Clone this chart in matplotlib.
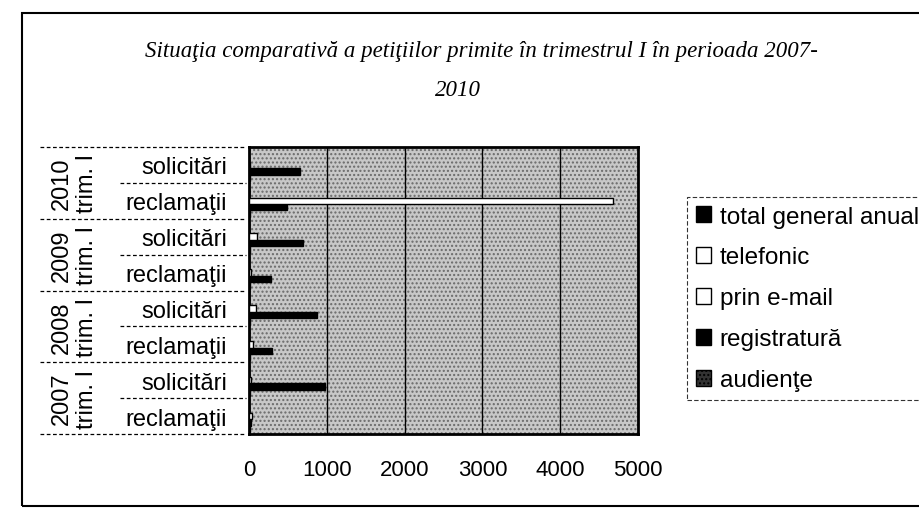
import matplotlib
matplotlib.use("Agg")
import matplotlib.pyplot as plt
import numpy as np
from matplotlib.patches import Rectangle, Patch
from matplotlib.transforms import blended_transform_factory

plt.rcParams['font.family'] = ['Liberation Sans', 'DejaVu Sans']

# ---- data (bottom -> top) ----
subcats = ["reclamaţii", "solicitări"] * 4
group_years = ["2007", "2008", "2009", "2010"]
group_sub = "trim. I"
series_names = ["audienţe", "registratură", "prin e-mail", "telefonic", "total general anual"]
audiente = [10, 15, 10, 15, 10, 15, 10, 15]
registratura = [30, 975, 295, 875, 285, 695, 490, 655]
email = [40, 20, 50, 90, 20, 100, 4680, 15]
telefonic = [0, 0, 0, 0, 0, 0, 0, 0]
total_anual = [0, 0, 0, 0, 0, 0, 0, 0]
xticks = [0, 1000, 2000, 3000, 4000, 5000]
title1 = "Situaţia comparativă a petiţiilor primite în trimestrul I în perioada 2007-"
title2 = "2010"

series_vals = [audiente, registratura, email, telefonic, total_anual]
series_style = [
    dict(facecolor="#333333", edgecolor="black", hatch="...."),
    dict(facecolor="black", edgecolor="black"),
    dict(facecolor="white", edgecolor="black"),
    dict(facecolor="white", edgecolor="black"),
    dict(facecolor="black", edgecolor="black"),
]

W, H = 919, 510
fig = plt.figure(figsize=(W / 100, H / 100), dpi=100)

L, R, T, B = 249, 638, 148, 435
ax = fig.add_axes([L / W, 1 - B / H, (R - L) / W, (B - T) / H])
ax.set_facecolor("#c8c8c8")
ax.add_patch(Rectangle((0, 0), 1, 1, transform=ax.transAxes, facecolor="none",
                       edgecolor="#6a6a6a", hatch="....", lw=0, zorder=0.5))

n = len(subcats)
y = np.arange(n)
w = 0.18
for k, (vals, st) in enumerate(zip(series_vals, series_style)):
    ax.barh(y + (k - 2) * w, vals, height=w, linewidth=1.0, zorder=3, **st)

ax.set_xlim(0, 5000)
ax.set_ylim(-0.5, n - 0.5)
ax.set_xticks(xticks)
ax.set_xticklabels([str(v) for v in xticks], fontsize=16)
ax.tick_params(axis="x", length=0, pad=18)
ax.set_yticks(y)
ax.set_yticklabels(subcats, fontsize=17)
ax.tick_params(axis="y", length=0, pad=16)
ax.xaxis.grid(True, color="black", lw=1.0, zorder=1)
ax.set_axisbelow(True)
for s in ax.spines.values():
    s.set_linewidth(2.0)
    s.set_color("black")

# category separators and group labels
tr = blended_transform_factory(fig.transFigure, ax.transData)
for i in range(n + 1):
    yy = i - 0.5
    x0 = 40 / W if i % 2 == 0 else 120 / W
    ax.plot([x0, (L - 3) / W], [yy, yy], transform=tr, color="black", lw=0.9,
            ls=(0, (3, 2)), clip_on=False)
for g, yr in enumerate(group_years):
    yc = 2 * g + 0.5
    ax.text(62 / W, yc, yr, transform=tr, rotation=90, fontsize=17,
            ha="center", va="center")
    ax.text(87 / W, yc, group_sub, transform=tr, rotation=90, fontsize=17,
            ha="center", va="center")

# title
fig.text(481 / W, 1 - 52 / H, title1, fontsize=16.5, style="italic",
         family="Liberation Serif", ha="center", va="center")
fig.text(458 / W, 1 - 91 / H, title2, fontsize=16.5, style="italic",
         family="Liberation Serif", ha="center", va="center")

# chart border
fig.patches.append(Rectangle((22 / W, 1 - 507 / H), (W + 10 - 22) / W, (507 - 14) / H,
                             transform=fig.transFigure, fill=False,
                             edgecolor="black", lw=1.5))

# legend
handles = [Patch(**series_style[k], label=series_names[k]) for k in range(5)][::-1]
leg = fig.legend(handles=handles, loc="upper left",
                 bbox_to_anchor=(687 / W, 1 - 198 / H), fontsize=17.5,
                 handlelength=0.65, handleheight=0.65, handletextpad=0.35,
                 labelspacing=0.78, borderpad=0.35, frameon=True, fancybox=False,
                 borderaxespad=0)
fr = leg.get_frame()
fr.set_edgecolor("black")
fr.set_linestyle((0, (4, 2)))
fr.set_linewidth(0.8)

fig.savefig("out.png", dpi=100)
